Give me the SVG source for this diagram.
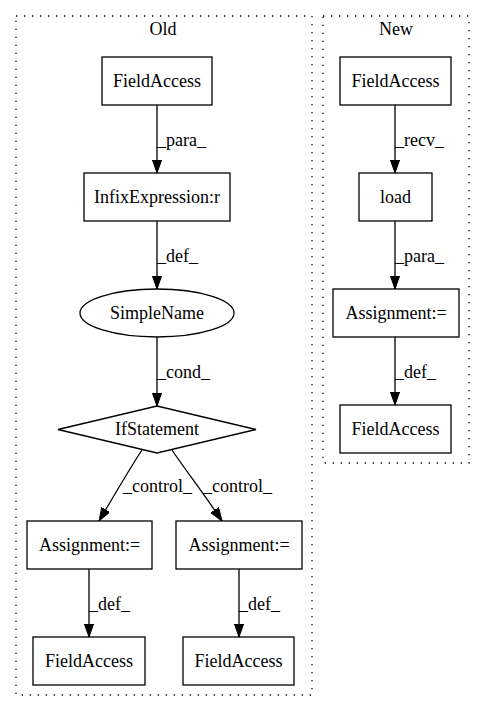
<svg xmlns="http://www.w3.org/2000/svg" width="485" height="712" viewBox="0 0 485 712">
<style>
.cl{fill:none;stroke:#000;stroke-width:1.3;stroke-dasharray:1.3,6.7}
.n{fill:#fff;stroke:#000;stroke-width:1.3}
text{font-family:"Liberation Serif","Times New Roman","DejaVu Serif",serif;font-size:18px;fill:#000}
.c{text-anchor:middle}
.e{fill:none;stroke:#000;stroke-width:1.3}
</style>
<defs>
<marker id="a" markerWidth="14" markerHeight="10" refX="13.3" refY="4.7" orient="auto" markerUnits="userSpaceOnUse">
<path d="M0,0 L13.3,4.7 L0,9.4 Z" fill="#000" stroke="#000" stroke-width="1"/>
</marker>
</defs>
<rect width="485" height="712" fill="#fff"/>
<g id="cluster_old">
<rect class="cl" x="16" y="16" width="296" height="679"/>
<text class="c" x="163" y="35">Old</text>
</g>
<g id="cluster_new">
<rect class="cl" x="323" y="16" width="146" height="447"/>
<text class="c" x="396" y="35">New</text>
</g>
<g id="edges">
<path class="e" d="M157,105 L157,173" marker-end="url(#a)"/>
<text x="157" y="146">_para_</text>
<path class="e" d="M157,221 L157,289" marker-end="url(#a)"/>
<text x="157" y="262">_def_</text>
<path class="e" d="M157,337 L157,406" marker-end="url(#a)"/>
<text x="157" y="378">_cond_</text>
<path class="e" d="M142,450 C130,468 115,494 99,521" marker-end="url(#a)"/>
<text x="123" y="492">_control_</text>
<path class="e" d="M172,450 C184,468 204,494 222,521" marker-end="url(#a)"/>
<text x="203" y="492">_control_</text>
<path class="e" d="M89,569 L89,637" marker-end="url(#a)"/>
<text x="89" y="610">_def_</text>
<path class="e" d="M239,569 L239,637" marker-end="url(#a)"/>
<text x="239" y="610">_def_</text>
<path class="e" d="M395,105 L395,173" marker-end="url(#a)"/>
<text x="395" y="146">_recv_</text>
<path class="e" d="M395,221 L395,289" marker-end="url(#a)"/>
<text x="395" y="262">_para_</text>
<path class="e" d="M395,337 L395,405" marker-end="url(#a)"/>
<text x="395" y="378">_def_</text>
</g>
<g id="old_fieldaccess1"><rect class="n" x="102" y="57" width="110" height="48"/><text class="c" x="157" y="87">FieldAccess</text></g>
<g id="old_infix"><rect class="n" x="84" y="173" width="146" height="48"/><text class="c" x="157" y="203">InfixExpression:r</text></g>
<g id="old_simplename"><ellipse class="n" cx="157" cy="313" rx="77" ry="24"/><text class="c" x="157" y="319">SimpleName</text></g>
<g id="old_if"><polygon class="n" points="157,406 256,429.5 157,453 58,429.5"/><text class="c" x="157" y="435">IfStatement</text></g>
<g id="old_assign1"><rect class="n" x="27" y="521" width="125" height="48"/><text class="c" x="89.5" y="551">Assignment:=</text></g>
<g id="old_assign2"><rect class="n" x="176" y="521" width="126" height="48"/><text class="c" x="239" y="551">Assignment:=</text></g>
<g id="old_fieldaccess2"><rect class="n" x="33" y="637" width="112" height="48"/><text class="c" x="89" y="667">FieldAccess</text></g>
<g id="old_fieldaccess3"><rect class="n" x="183" y="637" width="111" height="48"/><text class="c" x="238.5" y="667">FieldAccess</text></g>
<g id="new_fieldaccess1"><rect class="n" x="340" y="57" width="111" height="48"/><text class="c" x="395.5" y="87">FieldAccess</text></g>
<g id="new_load"><rect class="n" x="359" y="173" width="73" height="48"/><text class="c" x="395.5" y="203">load</text></g>
<g id="new_assign"><rect class="n" x="333" y="289" width="126" height="48"/><text class="c" x="396" y="319">Assignment:=</text></g>
<g id="new_fieldaccess2"><rect class="n" x="340" y="405" width="111" height="48"/><text class="c" x="395.5" y="435">FieldAccess</text></g>
</svg>
